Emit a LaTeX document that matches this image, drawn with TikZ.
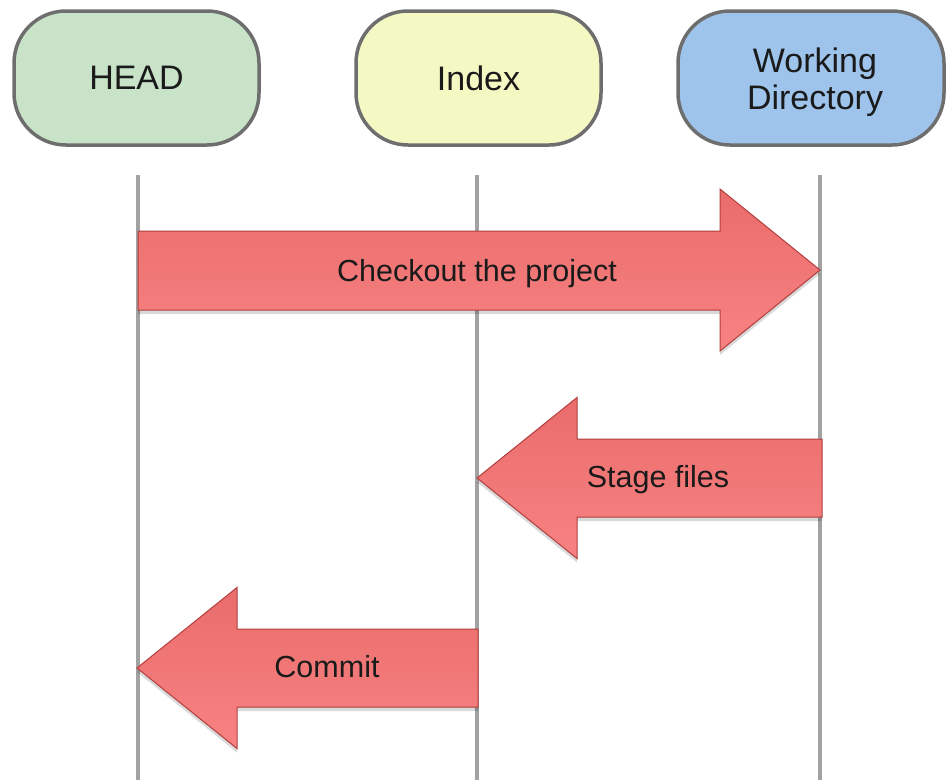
\documentclass[tikz,border=0pt]{standalone}
\usepackage{fontspec}
\setmainfont{Liberation Sans}
\usetikzlibrary{shadows}
\definecolor{boxborder}{HTML}{6E6E6E}
\definecolor{headfill}{HTML}{C9E3C9}
\definecolor{indexfill}{HTML}{F4F9C4}
\definecolor{wdfill}{HTML}{9FC4EC}
\definecolor{lifegray}{HTML}{A2A2A2}
\definecolor{arrowtop}{HTML}{EA6C6C}
\definecolor{arrowbot}{HTML}{F88282}
\definecolor{arrowedge}{HTML}{B23E3E}
\definecolor{textdark}{HTML}{1A1A1A}
\tikzset{
  areabox/.style={draw=boxborder, line width=3.5pt, rounded corners=52pt,
    minimum height=134pt, align=center, inner sep=0pt, text=textdark,
    font=\fontsize{34}{37}\selectfont},
  lifeline/.style={draw=lifegray, line width=3.5pt},
  bigarrow/.style={draw=arrowedge, line width=1pt, line join=miter,
    top color=arrowtop, bottom color=arrowbot,
    drop shadow={shadow xshift=0pt, shadow yshift=-4pt, opacity=0.15, fill=black}},
  arrowlabel/.style={font=\fontsize{30.5}{34}\selectfont, inner sep=0pt, text=textdark}
}
\begin{document}
\begin{tikzpicture}[x=1pt, y=-1pt]
\useasboundingbox (0,0) rectangle (948,780);
% boxes
\node[areabox, fill=headfill, minimum width=245pt] (head) at (136.5,78) {HEAD};
\node[areabox, fill=indexfill, minimum width=245pt] (index) at (478.5,78) {Index};
\node[areabox, fill=wdfill, minimum width=266pt] (wd) at (811,78) {};
\node[align=center, inner sep=0pt, text=textdark, font=\fontsize{34}{37}\selectfont] (wdlabel) at (815,82) {Working\\Directory};
% lifelines
\coordinate (headtop) at (138,175);
\coordinate (headbot) at (138,780);
\coordinate (indextop) at (477,175);
\coordinate (indexbot) at (477,780);
\coordinate (wdtop) at (820,175);
\coordinate (wdbot) at (820,780);
\draw[lifeline] (headtop) -- (headbot);
\draw[lifeline] (indextop) -- (indexbot);
\draw[lifeline] (wdtop) -- (wdbot);
% checkout arrow (right)
\path[bigarrow] (138,231) -- (720,231) -- (720,189) -- (820,270) -- (720,351) -- (720,310) -- (138,310) -- cycle;
\node[arrowlabel] (checkout) at (477,274) {Checkout the project};
% stage files arrow (left)
\path[bigarrow] (822,439) -- (577,439) -- (577,397.5) -- (477,478) -- (577,558.5) -- (577,517) -- (822,517) -- cycle;
\node[arrowlabel] (stage) at (658,480) {Stage files};
% commit arrow (left)
\path[bigarrow] (478,629) -- (237,629) -- (237,587.5) -- (137,668) -- (237,748.5) -- (237,707) -- (478,707) -- cycle;
\node[arrowlabel] (commit) at (327,667) {Commit};
\end{tikzpicture}
\end{document}
